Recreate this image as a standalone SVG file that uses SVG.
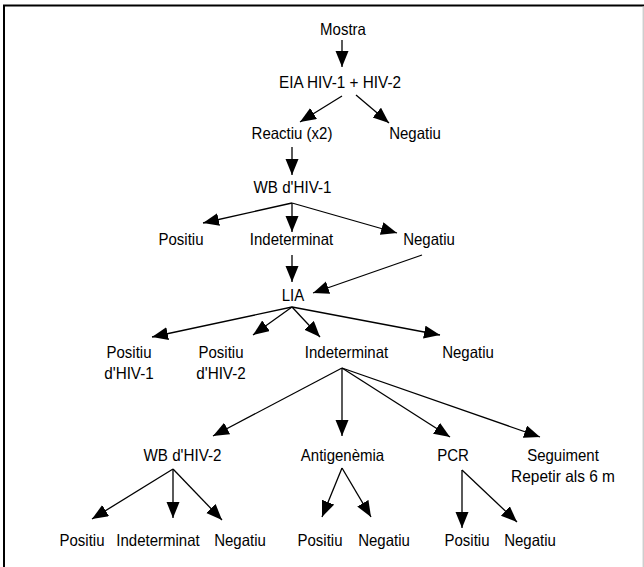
<svg xmlns="http://www.w3.org/2000/svg" width="644" height="567" viewBox="0 0 644 567">
<style>
text{font-family:"Liberation Sans",Arial,sans-serif;font-size:16.5px;fill:#000;text-anchor:middle}
.c line{stroke:#000;stroke-width:1.3;marker-end:url(#ah)}
</style>
<defs>
<marker id="ah" markerUnits="userSpaceOnUse" markerWidth="17" markerHeight="14" refX="16" refY="6.5" orient="auto">
<path d="M0,0 L16,6.5 L0,13 Z" fill="#000"/>
</marker>
</defs>
<rect width="644" height="567" fill="#fff"/>
<line x1="3" y1="5.5" x2="644" y2="5.5" stroke="#000" stroke-width="1.8"/>
<line x1="4" y1="5" x2="4" y2="567" stroke="#000" stroke-width="2"/>
<line x1="643.2" y1="6" x2="643.2" y2="567" stroke="#b8b8b8" stroke-width="1"/>
<g class="c" id="connectors">
<line x1="342" y1="40" x2="342" y2="67"/>
<line x1="342" y1="96" x2="300" y2="122"/>
<line x1="356" y1="95" x2="389" y2="123"/>
<line x1="292" y1="147" x2="292" y2="175"/>
<line x1="292" y1="203" x2="203" y2="223"/>
<line x1="292" y1="203" x2="292" y2="232"/>
<line x1="292" y1="203" x2="397" y2="233"/>
<line x1="292" y1="255" x2="292" y2="282"/>
<line x1="422" y1="255" x2="313" y2="293"/>
<line x1="292" y1="307" x2="152" y2="337"/>
<line x1="292" y1="307" x2="253" y2="335"/>
<line x1="292" y1="307" x2="320" y2="337"/>
<line x1="292" y1="307" x2="440" y2="335"/>
<line x1="342" y1="368" x2="213" y2="436"/>
<line x1="342" y1="368" x2="342" y2="436"/>
<line x1="342" y1="368" x2="450" y2="437"/>
<line x1="342" y1="368" x2="540" y2="437"/>
<line x1="173" y1="469" x2="92" y2="519"/>
<line x1="173" y1="469" x2="173" y2="518"/>
<line x1="173" y1="469" x2="222" y2="520"/>
<line x1="342" y1="468" x2="322" y2="517"/>
<line x1="342" y1="468" x2="371" y2="517"/>
<line x1="462" y1="470" x2="462" y2="528"/>
<line x1="462" y1="470" x2="517" y2="522"/>
</g>
<g id="mostra"><text x="343" y="35" textLength="45.8" lengthAdjust="spacingAndGlyphs">Mostra</text></g>
<g id="eia"><text x="340" y="88" textLength="122" lengthAdjust="spacingAndGlyphs">EIA HIV-1 + HIV-2</text></g>
<g id="reactiu"><text x="292" y="139" textLength="80.9" lengthAdjust="spacingAndGlyphs">Reactiu (x2)</text></g>
<g id="negatiu1"><text x="415" y="139" textLength="51.7" lengthAdjust="spacingAndGlyphs">Negatiu</text></g>
<g id="wb1"><text x="292.5" y="193" textLength="77.9" lengthAdjust="spacingAndGlyphs">WB d'HIV-1</text></g>
<g id="positiu2"><text x="181" y="245" textLength="45" lengthAdjust="spacingAndGlyphs">Positiu</text></g>
<g id="indet2"><text x="291.5" y="245" textLength="83.4" lengthAdjust="spacingAndGlyphs">Indeterminat</text></g>
<g id="negatiu2"><text x="429" y="245" textLength="51.7" lengthAdjust="spacingAndGlyphs">Negatiu</text></g>
<g id="lia"><text x="293" y="301" textLength="22.5" lengthAdjust="spacingAndGlyphs">LIA</text></g>
<g id="pos-hiv1"><text x="129" y="358" textLength="45" lengthAdjust="spacingAndGlyphs">Positiu</text><text x="129" y="379" textLength="49.5" lengthAdjust="spacingAndGlyphs">d'HIV-1</text></g>
<g id="pos-hiv2"><text x="221" y="358" textLength="45" lengthAdjust="spacingAndGlyphs">Positiu</text><text x="221" y="379" textLength="49.5" lengthAdjust="spacingAndGlyphs">d'HIV-2</text></g>
<g id="indet3"><text x="346.5" y="358" textLength="83.4" lengthAdjust="spacingAndGlyphs">Indeterminat</text></g>
<g id="negatiu3"><text x="468" y="358" textLength="51.7" lengthAdjust="spacingAndGlyphs">Negatiu</text></g>
<g id="wb2"><text x="182.5" y="461" textLength="77.9" lengthAdjust="spacingAndGlyphs">WB d'HIV-2</text></g>
<g id="antigenemia"><text x="342.5" y="461" textLength="83.4" lengthAdjust="spacingAndGlyphs">Antigenèmia</text></g>
<g id="pcr"><text x="453" y="461" textLength="31.7" lengthAdjust="spacingAndGlyphs">PCR</text></g>
<g id="seguiment"><text x="563" y="461" textLength="71.7" lengthAdjust="spacingAndGlyphs">Seguiment</text><text x="563" y="482" textLength="103.9" lengthAdjust="spacingAndGlyphs">Repetir als 6 m</text></g>
<g id="wb2-pos"><text x="82" y="546" textLength="45" lengthAdjust="spacingAndGlyphs">Positiu</text></g>
<g id="wb2-ind"><text x="158" y="546" textLength="83.4" lengthAdjust="spacingAndGlyphs">Indeterminat</text></g>
<g id="wb2-neg"><text x="240" y="546" textLength="51.7" lengthAdjust="spacingAndGlyphs">Negatiu</text></g>
<g id="ag-pos"><text x="320" y="546" textLength="45" lengthAdjust="spacingAndGlyphs">Positiu</text></g>
<g id="ag-neg"><text x="384" y="546" textLength="51.7" lengthAdjust="spacingAndGlyphs">Negatiu</text></g>
<g id="pcr-pos"><text x="467" y="546" textLength="45" lengthAdjust="spacingAndGlyphs">Positiu</text></g>
<g id="pcr-neg"><text x="530" y="546" textLength="51.7" lengthAdjust="spacingAndGlyphs">Negatiu</text></g>
</svg>
